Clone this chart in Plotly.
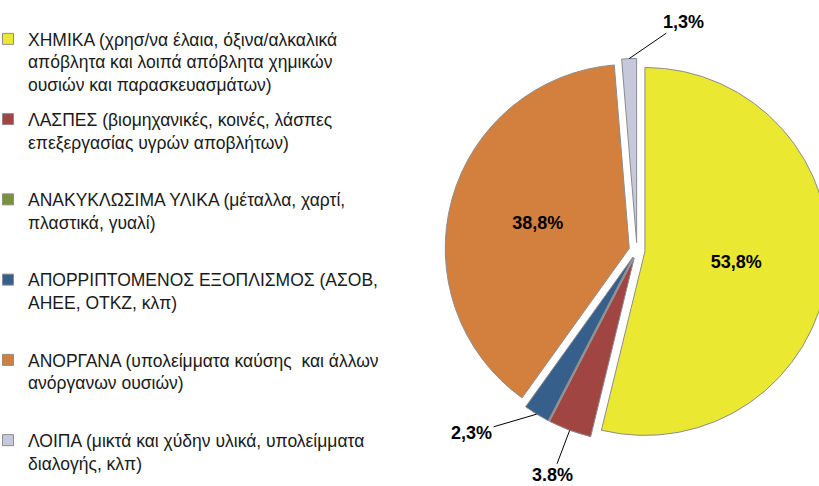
import math
import plotly.graph_objects as go

# ---- data ----
categories = [
    "ΧΗΜΙΚΑ (χρησ/να έλαια, όξινα/αλκαλικά<br>απόβλητα και λοιπά απόβλητα χημικών<br>ουσιών και παρασκευασμάτων)",
    "ΛΑΣΠΕΣ (βιομηχανικές, κοινές, λάσπες<br>επεξεργασίας υγρών αποβλήτων)",
    "ΑΝΑΚΥΚΛΩΣΙΜΑ ΥΛΙΚΑ (μέταλλα, χαρτί,<br>πλαστικά, γυαλί)",
    "ΑΠΟΡΡΙΠΤΟΜΕΝΟΣ ΕΞΟΠΛΙΣΜΟΣ (ΑΣΟΒ,<br>ΑΗΕΕ, ΟΤΚΖ, κλπ)",
    "ΑΝΟΡΓΑΝΑ (υπολείμματα καύσης  και άλλων<br>ανόργανων ουσιών)",
    "ΛΟΙΠΑ (μικτά και χύδην υλικά, υπολείμματα<br>διαλογής, κλπ)",
]
values = [53.8, 3.8, 0.0, 2.3, 38.8, 1.3]
pct_text = ["53,8%", "3.8%", "", "2,3%", "38,8%", "1,3%"]
colors = ["#EBE832", "#A04542", "#77933C", "#375F8C", "#D3803E", "#C8C8DC"]

W, H = 835, 486          # figure a bit wider than the 819 window: pie is cut at right as in the original
dom_x = [0.5329, 0.9928]
dom_y = [0.0746, 0.8946]
pull = 0.0435
LABEL_FONT = dict(family="Liberation Sans", size=18, color="#000000", weight="bold")

inside = [v >= 10 for v in values]

fig = go.Figure()
fig.add_trace(go.Pie(
    labels=categories,
    values=values,
    sort=False,
    direction="clockwise",
    rotation=0,
    pull=[pull] * len(values),
    marker=dict(colors=colors, line=dict(color="#8C8C8C", width=1)),
    text=[t if ins else "" for t, ins in zip(pct_text, inside)],
    textinfo="text",
    textposition="inside",
    insidetextorientation="horizontal",
    textfont=LABEL_FONT,
    domain=dict(x=dom_x, y=dom_y),
    hoverinfo="label+percent",
    showlegend=False,
))

# legend entries (one per category, same colours as the slices)
for i, (name, col) in enumerate(zip(categories, colors)):
    n_lines = name.count("<br>") + 1
    label = name + "<br> " * (3 - n_lines)
    fig.add_trace(go.Scatter(
        x=[None], y=[None], mode="markers", name=label,
        legendgroup=f"g{i}",
        marker=dict(symbol="square", size=11, color=col,
                    line=dict(color="#8C8C8C", width=1)),
        hoverinfo="skip",
    ))

# outside labels with leader lines, placed at slice bisectors
cx = (dom_x[0] + dom_x[1]) / 2 * W
cy = (1 - (dom_y[0] + dom_y[1]) / 2) * H
dpx = min((dom_x[1] - dom_x[0]) * W, (dom_y[1] - dom_y[0]) * H)
r = dpx / 2 / (1 + pull)
total = sum(values)
offsets = {1: (-17, 45), 3: (-65, 19), 5: (54, -37)}
cum = 0.0
for i, v in enumerate(values):
    mid = (cum + v / 2) / total * 2 * math.pi
    cum += v
    if i not in offsets:
        continue
    d = r * (1 + pull)
    tx = cx + d * math.sin(mid)
    ty = cy - d * math.cos(mid)
    ax, ay = offsets[i]
    fig.add_annotation(
        x=tx / W, y=1 - ty / H, xref="paper", yref="paper",
        text=pct_text[i], showarrow=True, arrowhead=0, arrowwidth=1,
        arrowcolor="#000000", ax=ax, ay=ay, standoff=0,
        font=LABEL_FONT,
    )

fig.update_layout(
    width=W, height=H,
    margin=dict(l=0, r=0, t=0, b=0, autoexpand=False),
    paper_bgcolor="white", plot_bgcolor="white",
    xaxis=dict(visible=False), yaxis=dict(visible=False),
    showlegend=True,
    legend=dict(
        x=-12 / W, y=1 - 21 / H, xanchor="left", yanchor="top",
        valign="top", traceorder="grouped", tracegroupgap=9,
        font=dict(family="Liberation Sans", size=17.5, color="#1A1A1A"),
        bgcolor="rgba(0,0,0,0)", itemclick=False, itemdoubleclick=False,
    ),
)

fig.write_html(
    "out.html",
    config={"displayModeBar": False},
    post_script="document.documentElement.style.overflow='hidden';document.body.style.overflow='hidden';document.body.style.margin='0';",
)
